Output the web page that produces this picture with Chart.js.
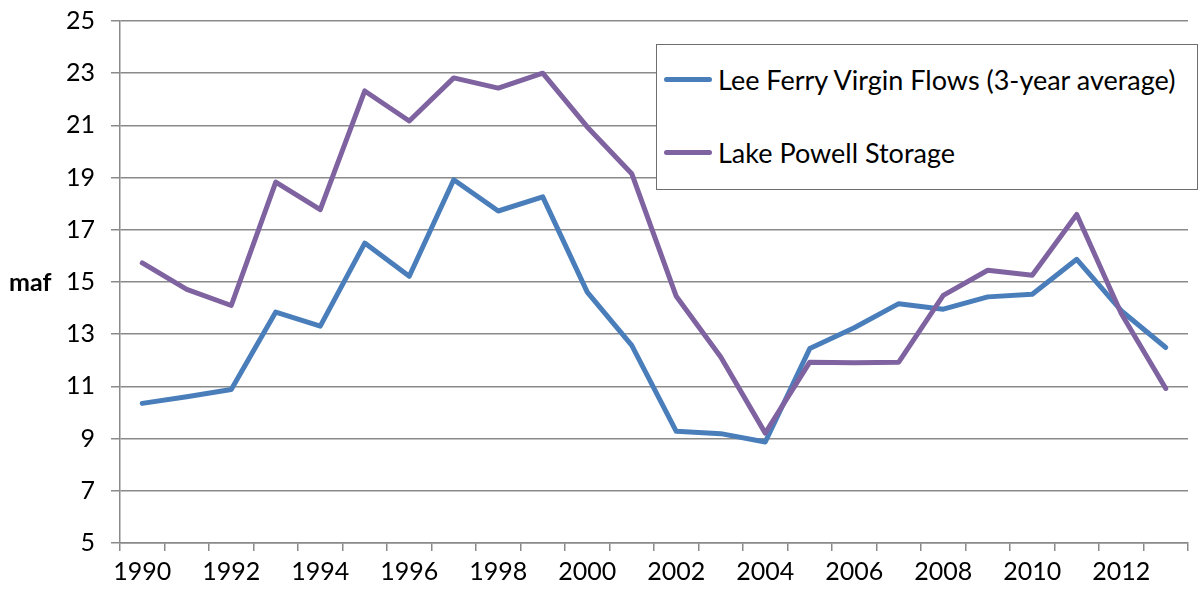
<!DOCTYPE html>
<html>
<head>
<meta charset="utf-8">
<script src="https://cdn.jsdelivr.net/npm/chart.js@4.4.0/dist/chart.umd.min.js"></script>
<style>
    html, body { margin: 0; padding: 0; background: #fff; }
    #wrap { position: relative; width: 1204px; height: 595px; font-family: Lato, "Open Sans", sans-serif; }
    #yTitle { position: absolute; left: 9px; top: 266px; font-size: 25px; font-weight: bold; color: #000; }
    #legend {
        position: absolute; left: 656px; top: 44px; width: 542px; height: 146px;
        border: 1.5px solid #6e6e6e; background: #fff; box-sizing: border-box;
    }
    .item { position: absolute; left: 7px; display: flex; align-items: center; font-size: 27px; color: #000; white-space: nowrap; }
    .swatch { width: 48px; height: 5px; border-radius: 3px; margin-right: 6px; }
</style>
</head>
<body>
<div id="wrap">
    <canvas id="chart" width="1204" height="595"></canvas>
    <div id="yTitle">maf</div>
    <div id="legend"></div>
</div>
<script>
const years = [1990, 1991, 1992, 1993, 1994, 1995, 1996, 1997, 1998, 1999, 2000, 2001,
               2002, 2003, 2004, 2005, 2006, 2007, 2008, 2009, 2010, 2011, 2012, 2013];

// Lee Ferry virgin flows, 3-year average (maf)
const leeFerry = [10.35, 10.6, 10.88, 13.85, 13.31, 16.49, 15.22, 18.92, 17.72, 18.26, 14.61, 12.57,
                  9.28, 9.19, 8.87, 12.45, 13.25, 14.17, 13.96, 14.43, 14.53, 15.87, 13.9, 12.49];

// Lake Powell storage (maf)
const lakePowell = [15.73, 14.72, 14.1, 18.83, 17.77, 22.32, 21.17, 22.82, 22.43, 23.0, 20.94, 19.15,
                    14.45, 12.13, 9.21, 11.93, 11.91, 11.93, 14.49, 15.45, 15.26, 17.59, 13.79, 10.92];

const seriesNames = ['Lee Ferry Virgin Flows (3-year average)', 'Lake Powell Storage'];
const seriesColors = ['#4a7ebb', '#7f63a1'];

const yTicks = [5, 7, 9, 11, 13, 15, 17, 19, 21, 23, 25];

const tickFont = { family: 'Lato, "Open Sans", sans-serif', size: 25 };
const gridColor = '#8a8a8a';

new Chart(document.getElementById('chart'), {
    type: 'line',
    data: {
        labels: years,
        datasets: [
            {
                label: seriesNames[0],
                data: leeFerry,
                borderColor: seriesColors[0],
                borderWidth: 5,
                pointRadius: 0,
                tension: 0,
                borderCapStyle: 'round',
                borderJoinStyle: 'round',
                order: 1
            },
            {
                label: seriesNames[1],
                data: lakePowell,
                borderColor: seriesColors[1],
                borderWidth: 5,
                pointRadius: 0,
                tension: 0,
                borderCapStyle: 'round',
                borderJoinStyle: 'round',
                order: 0
            }
        ]
    },
    options: {
        responsive: false,
        animation: false,
        layout: { padding: { left: 0, right: 16, top: 21, bottom: 0 } },
        plugins: {
            legend: { display: false },
            tooltip: { enabled: false }
        },
        scales: {
            x: {
                type: 'category',
                offset: true,
                grid: {
                    offset: true,
                    drawOnChartArea: false,
                    drawTicks: true,
                    tickLength: 8,
                    color: gridColor,
                    lineWidth: 1.5
                },
                border: { color: gridColor, width: 1.5 },
                ticks: {
                    autoSkip: false,
                    maxRotation: 0,
                    padding: 6,
                    color: '#000',
                    font: tickFont,
                    callback: function (value, index) {
                        const y = years[index];
                        return y % 2 === 0 ? String(y) : '';
                    }
                },
                afterFit: s => { s.height = 52; s.paddingLeft = 0; s.paddingRight = 0; }
            },
            y: {
                min: 5,
                max: 25,
                afterBuildTicks: s => { s.ticks = yTicks.map(v => ({ value: v })); },
                grid: {
                    color: gridColor,
                    lineWidth: 1.5,
                    tickLength: 9
                },
                border: { color: gridColor, width: 1.5 },
                ticks: {
                    padding: 16,
                    color: '#000',
                    font: tickFont
                },
                afterFit: s => { s.width = 120; s.paddingTop = 0; s.paddingBottom = 0; }
            }
        }
    }
});

// legend box drawn as html, placed over the plot like the original
const legend = document.getElementById('legend');
const itemTops = [18, 91];
seriesNames.forEach((name, i) => {
    const item = document.createElement('div');
    item.className = 'item';
    item.style.top = itemTops[i] + 'px';
    item.innerHTML = '<span class="swatch" style="background:' + seriesColors[i] + '"></span><span>' + name + '</span>';
    legend.appendChild(item);
});
</script>
</body>
</html>
